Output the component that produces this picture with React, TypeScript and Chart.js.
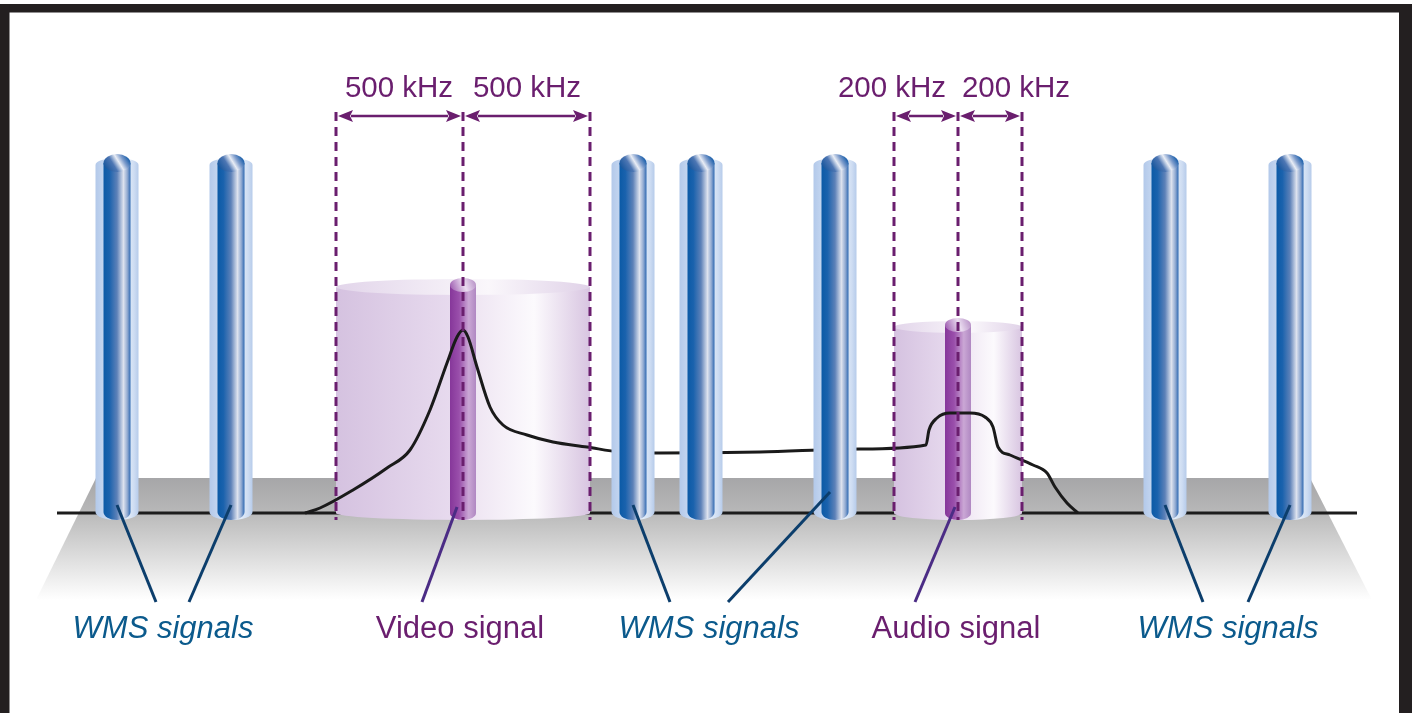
import React, { useEffect, useRef } from "react";
import { Chart, registerables } from "chart.js";
Chart.register(...registerables);

// ---- data (x: relative frequency units, y: signal level, 0 = baseline) ----
const wmsFreqs = [117, 231, 633, 701, 835, 1165, 1290];
const wmsLevels = [359, 359, 359, 359, 359, 359, 359];

const videoCarrier = 463;
const videoHalfBand = 127;
const videoBandLevel = 234;
const videoCarrierLevel = 235;

const audioCarrier = 958;
const audioHalfBand = 64;
const audioBandLevel = 192;
const audioCarrierLevel = 195;

const spanLabels = ["500 kHz", "500 kHz", "200 kHz", "200 kHz"];
const spanLabelX = [399, 527, 892, 1016];

const specFreq = [305, 320, 353, 387, 410, 430, 447, 457, 463, 468, 477, 490, 503, 527, 553, 587, 620, 660, 760, 860, 926, 929, 937, 950, 970, 985, 993, 998, 1010, 1033, 1047, 1055, 1067, 1078];
const specLevel = [0, 5, 23, 45, 63, 103, 150, 176, 183, 176, 146, 106, 88, 78, 71, 66, 61, 60, 61, 64, 68, 83, 95, 100, 100, 96, 86, 66, 58, 48, 40, 26, 10, 0];

const bottomLabels = ["WMS signals", "Video signal", "WMS signals", "Audio signal", "WMS signals"];
const bottomLabelX = [163, 460, 709, 956, 1228];
const bottomLabelKind = ["wms", "carrier", "wms", "carrier", "wms"];

const leaderFromX = [117, 231, 633, 830, 1165, 1290, 457, 955];
const leaderFromLevel = [8, 8, 8, 21, 8, 8, 6, 6];
const leaderToX = [156, 189, 670, 728, 1203, 1248, 422, 915];
const leaderKind = ["wms", "wms", "wms", "wms", "wms", "wms", "carrier", "carrier"];

const baselineRange = [57, 1357];
const floorTopX = [96, 1310];
const floorBottomX = [36, 1372];
const floorTopLevel = 35;
const floorBottomLevel = -87;
const dashTopLevel = 401;
const arrowLevel = 397;
const spanLabelLevel = 416;
const bottomLabelLevel = -125;
const leaderEndLevel = -89;

const PURPLE = "#6a1e6e";
const WMS_BLUE = "#0b5a8c";

function drawBlueCylinder(ctx: CanvasRenderingContext2D, cx: number, top: number, bottom: number) {
  const ho = 21.5, hi = 13.5;
  const ocy = top + 11, ory = 7;
  const icy = top + 9, iry = 9;
  const bcy = bottom - 8;
  let g = ctx.createLinearGradient(cx - ho, 0, cx + ho, 0);
  g.addColorStop(0, "#b3c9ea");
  g.addColorStop(0.2, "#c4d6f0");
  g.addColorStop(0.75, "#e2ecf8");
  g.addColorStop(0.9, "#cddcf2");
  g.addColorStop(1, "#b6cbea");
  ctx.fillStyle = g;
  ctx.beginPath();
  ctx.moveTo(cx - ho, ocy);
  ctx.lineTo(cx - ho, bcy);
  ctx.ellipse(cx, bcy, ho, 8, 0, Math.PI, 0, true);
  ctx.lineTo(cx + ho, ocy);
  ctx.ellipse(cx, ocy, ho, ory, 0, 0, Math.PI, true);
  ctx.closePath();
  ctx.fill();
  g = ctx.createLinearGradient(cx - hi, 0, cx + hi, 0);
  g.addColorStop(0, "#0b5aa6");
  g.addColorStop(0.22, "#1a62ad");
  g.addColorStop(0.5, "#5d81b8");
  g.addColorStop(0.74, "#dde2ee");
  g.addColorStop(0.88, "#94acd2");
  g.addColorStop(1, "#2f69b2");
  ctx.fillStyle = g;
  ctx.beginPath();
  ctx.moveTo(cx - hi, icy);
  ctx.lineTo(cx - hi, bcy);
  ctx.ellipse(cx, bcy, hi, 8, 0, Math.PI, 0, true);
  ctx.lineTo(cx + hi, icy);
  ctx.closePath();
  ctx.fill();
  g = ctx.createLinearGradient(cx - hi, icy + 6, cx + hi * 0.7, icy - 8);
  g.addColorStop(0, "#0a4f98");
  g.addColorStop(0.4, "#4d76b3");
  g.addColorStop(0.62, "#e9edf5");
  g.addColorStop(0.8, "#7c9bcb");
  g.addColorStop(1, "#1a5fab");
  ctx.fillStyle = g;
  ctx.beginPath();
  ctx.ellipse(cx, icy, hi, iry, 0, 0, Math.PI * 2);
  ctx.fill();
}

function drawPurpleBand(ctx: CanvasRenderingContext2D, x0: number, x1: number, top: number, base: number, ry: number) {
  const cx = (x0 + x1) / 2, rx = (x1 - x0) / 2;
  const cy = top + ry;
  let g = ctx.createLinearGradient(x0, 0, x1, 0);
  g.addColorStop(0, "#d5c2e0");
  g.addColorStop(0.45, "#e7daee");
  g.addColorStop(0.55, "#efe6f3");
  g.addColorStop(0.78, "#fcfafd");
  g.addColorStop(1, "#d8c5e1");
  ctx.fillStyle = g;
  ctx.beginPath();
  ctx.moveTo(x0, cy);
  ctx.lineTo(x0, base);
  ctx.ellipse(cx, base, rx, 7, 0, Math.PI, 0, true);
  ctx.lineTo(x1, cy);
  ctx.closePath();
  ctx.fill();
  g = ctx.createLinearGradient(x0, 0, x1, 0);
  g.addColorStop(0, "#e2d5ea");
  g.addColorStop(0.6, "#faf7fb");
  g.addColorStop(1, "#e0d2e8");
  ctx.fillStyle = g;
  ctx.beginPath();
  ctx.ellipse(cx, cy, rx, ry, 0, 0, Math.PI * 2);
  ctx.fill();
}

function drawPurpleCarrier(ctx: CanvasRenderingContext2D, cx: number, top: number, base: number) {
  const h = 13, ry = 7;
  const cy = top + ry;
  let g = ctx.createLinearGradient(cx - h, 0, cx + h, 0);
  g.addColorStop(0, "#86379a");
  g.addColorStop(0.35, "#9a4fab");
  g.addColorStop(0.72, "#caa7d5");
  g.addColorStop(1, "#b088c2");
  ctx.fillStyle = g;
  ctx.beginPath();
  ctx.moveTo(cx - h, cy);
  ctx.lineTo(cx - h, base);
  ctx.ellipse(cx, base, h, 7, 0, Math.PI, 0, true);
  ctx.lineTo(cx + h, cy);
  ctx.closePath();
  ctx.fill();
  g = ctx.createLinearGradient(cx - h, cy + 5, cx + h, cy - 5);
  g.addColorStop(0, "#9a55ad");
  g.addColorStop(0.55, "#eadcf0");
  g.addColorStop(1, "#b48cc4");
  ctx.fillStyle = g;
  ctx.beginPath();
  ctx.ellipse(cx, cy, h, ry, 0, 0, Math.PI * 2);
  ctx.fill();
}

function drawArrow(ctx: CanvasRenderingContext2D, xa: number, xb: number, y: number) {
  const L = 15, W = 6;
  ctx.strokeStyle = PURPLE;
  ctx.fillStyle = PURPLE;
  ctx.lineWidth = 2.6;
  ctx.setLineDash([]);
  ctx.beginPath();
  ctx.moveTo(xa + L - 2, y);
  ctx.lineTo(xb - L + 2, y);
  ctx.stroke();
  ctx.beginPath();
  ctx.moveTo(xa, y);
  ctx.lineTo(xa + L, y - W);
  ctx.lineTo(xa + L - 3, y);
  ctx.lineTo(xa + L, y + W);
  ctx.closePath();
  ctx.fill();
  ctx.beginPath();
  ctx.moveTo(xb, y);
  ctx.lineTo(xb - L, y - W);
  ctx.lineTo(xb - L + 3, y);
  ctx.lineTo(xb - L, y + W);
  ctx.closePath();
  ctx.fill();
}

const scenePlugin = {
  id: "scene",
  beforeDraw(chart: any) {
    const ctx: CanvasRenderingContext2D = chart.ctx;
    const W = chart.width, H = chart.height;
    ctx.save();
    ctx.fillStyle = "#ffffff";
    ctx.fillRect(0, 0, W, H);
    ctx.fillStyle = "#231f20";
    ctx.fillRect(0, 4, W, 8.5);
    ctx.fillRect(0, 4, 9.5, H);
    ctx.fillRect(W - 13, 4, 13, H);
    ctx.restore();
  },
  beforeDatasetsDraw(chart: any) {
    const ctx: CanvasRenderingContext2D = chart.ctx;
    const xs = chart.scales.x, ys = chart.scales.y;
    const px = (v: number) => xs.getPixelForValue(v);
    const py = (v: number) => ys.getPixelForValue(v);
    ctx.save();
    const yt = py(floorTopLevel), yb = py(floorBottomLevel);
    const g = ctx.createLinearGradient(0, yt, 0, yb);
    g.addColorStop(0, "#a6a6a8");
    g.addColorStop(0.3, "#b9b9b9");
    g.addColorStop(0.32, "#bdbdbd");
    g.addColorStop(1, "#ffffff");
    ctx.fillStyle = g;
    ctx.beginPath();
    ctx.moveTo(px(floorTopX[0]), yt);
    ctx.lineTo(px(floorTopX[1]), yt);
    ctx.lineTo(px(floorBottomX[1]), yb);
    ctx.lineTo(px(floorBottomX[0]), yb);
    ctx.closePath();
    ctx.fill();
    ctx.strokeStyle = "#1c1c1c";
    ctx.lineWidth = 2.8;
    ctx.beginPath();
    ctx.moveTo(px(baselineRange[0]), py(0));
    ctx.lineTo(px(baselineRange[1]), py(0));
    ctx.stroke();
    const base = py(0);
    drawPurpleBand(ctx, px(videoCarrier - videoHalfBand), px(videoCarrier + videoHalfBand), py(videoBandLevel), base, 8);
    drawPurpleBand(ctx, px(audioCarrier - audioHalfBand), px(audioCarrier + audioHalfBand), py(audioBandLevel), base, 6);
    drawPurpleCarrier(ctx, px(videoCarrier), py(videoCarrierLevel), base);
    drawPurpleCarrier(ctx, px(audioCarrier), py(audioCarrierLevel), base);
    ctx.restore();
  },
  afterDatasetsDraw(chart: any) {
    const ctx: CanvasRenderingContext2D = chart.ctx;
    const xs = chart.scales.x, ys = chart.scales.y;
    const px = (v: number) => xs.getPixelForValue(v);
    const py = (v: number) => ys.getPixelForValue(v);
    ctx.save();
    const edges = [
      videoCarrier - videoHalfBand, videoCarrier, videoCarrier + videoHalfBand,
      audioCarrier - audioHalfBand, audioCarrier, audioCarrier + audioHalfBand,
    ];
    ctx.strokeStyle = PURPLE;
    ctx.lineWidth = 3;
    ctx.setLineDash([9, 6]);
    edges.forEach((e) => {
      ctx.beginPath();
      ctx.moveTo(px(e), py(dashTopLevel));
      ctx.lineTo(px(e), py(0) + 7);
      ctx.stroke();
    });
    ctx.setLineDash([]);
    const ay = py(arrowLevel);
    drawArrow(ctx, px(edges[0]) + 2, px(edges[1]) - 2, ay);
    drawArrow(ctx, px(edges[1]) + 2, px(edges[2]) - 2, ay);
    drawArrow(ctx, px(edges[3]) + 2, px(edges[4]) - 2, ay);
    drawArrow(ctx, px(edges[4]) + 2, px(edges[5]) - 2, ay);
    ctx.fillStyle = PURPLE;
    ctx.font = '29.5px "Liberation Sans", Arial, sans-serif';
    ctx.textAlign = "center";
    ctx.textBaseline = "alphabetic";
    spanLabels.forEach((t, i) => ctx.fillText(t, px(spanLabelX[i]), py(spanLabelLevel)));
    wmsFreqs.forEach((f, i) => drawBlueCylinder(ctx, px(f), py(wmsLevels[i]), py(0) + 7));
    ctx.lineWidth = 3;
    leaderFromX.forEach((x, i) => {
      ctx.strokeStyle = leaderKind[i] === "wms" ? "#0c3e6c" : "#4b2c85";
      ctx.beginPath();
      ctx.moveTo(px(x), py(leaderFromLevel[i]));
      ctx.lineTo(px(leaderToX[i]), py(leaderEndLevel));
      ctx.stroke();
    });
    bottomLabels.forEach((t, i) => {
      const wms = bottomLabelKind[i] === "wms";
      ctx.fillStyle = wms ? WMS_BLUE : PURPLE;
      ctx.font = (wms ? "italic " : "") + '31px "Liberation Sans", Arial, sans-serif';
      ctx.fillText(t, px(bottomLabelX[i]), py(bottomLabelLevel));
    });
    ctx.restore();
  },
};

export default function App() {
  const ref = useRef<HTMLCanvasElement | null>(null);
  useEffect(() => {
    if (!ref.current) return;
    const chart = new Chart(ref.current, {
      type: "scatter",
      data: {
        datasets: [
          {
            label: "Spectrum",
            data: specFreq.map((f, i) => ({ x: f, y: specLevel[i] })),
            showLine: true,
            borderColor: "#1a1a1a",
            borderWidth: 3,
            pointRadius: 0,
            cubicInterpolationMode: "monotone",
            fill: false,
          } as any,
        ],
      },
      options: {
        animation: false,
        responsive: true,
        maintainAspectRatio: false,
        layout: { padding: 0 },
        plugins: { legend: { display: false }, tooltip: { enabled: false } },
        events: [],
        scales: {
          x: { type: "linear", min: 0, max: 1412, display: false },
          y: { type: "linear", min: -200, max: 513, display: false },
        },
      },
      plugins: [scenePlugin],
    });
    return () => chart.destroy();
  }, []);
  return (
    <div style={{ position: "fixed", left: 0, top: 0, width: 1412, height: 713, background: "#fff" }}>
      <canvas ref={ref} />
    </div>
  );
}
